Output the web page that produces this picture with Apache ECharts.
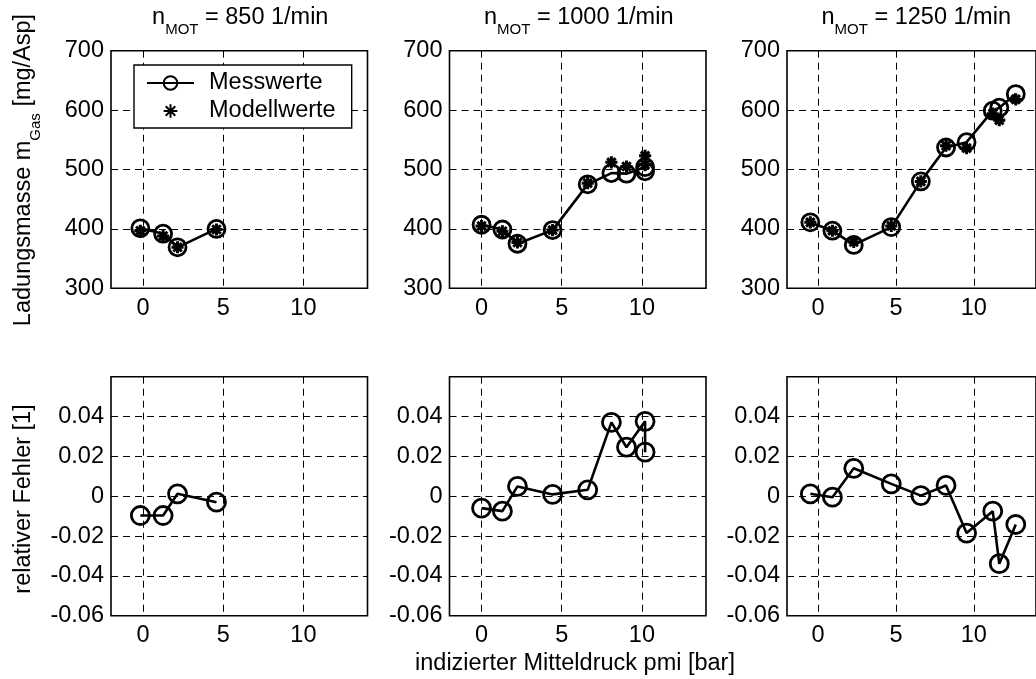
<!DOCTYPE html>
<html><head><meta charset="utf-8">
<script src="https://cdn.jsdelivr.net/npm/echarts@6/dist/echarts.min.js"></script>
<style>html,body{margin:0;padding:0;background:#fff}#c{width:1036px;height:679px}</style>
</head><body><div id="c"></div>
<script>
// ---- data ----
const speeds = ['850', '1000', '1250'];
const pmi850  = [-0.17, 1.25, 2.15, 4.58];
const mess850 = [401, 392, 369, 400];
const model850 = [397, 388, 369, 399];
const err850 = [-0.0097, -0.0097, 0.0012, -0.003];

const pmi1000  = [0.0, 1.3, 2.24, 4.43, 6.62, 8.1, 9.04, 10.2, 10.2];
const mess1000 = [407, 399, 375, 398, 475, 494, 493, 504, 497];
const model1000 = [405, 396, 377, 398, 477, 512, 505, 523, 508];
const err1000 = [-0.006, -0.0075, 0.0049, 0.0009, 0.0032, 0.0371, 0.0246, 0.0376, 0.0221];

const pmi1250  = [-0.5, 0.92, 2.29, 4.7, 6.6, 8.22, 9.54, 11.22, 11.64, 12.7];
const mess1250 = [411, 397, 373, 403, 480, 537, 546, 599, 604, 627];
const model1250 = [411, 397, 378, 405, 480, 540, 536, 594, 583, 618];
const err1250 = [0.0012, -0.0005, 0.014, 0.0062, 0.0003, 0.0054, -0.0185, -0.0075, -0.0339, -0.0142];

const xTicks = [0, 5, 10];
const yTopRange = [300, 700, 100];
const yBotRange = [-0.06, 0.06, 0.02];
const legendNames = ['Messwerte', 'Modellwerte'];
const yNameTop = 'Ladungsmasse m';
const yNameTopSub = 'Gas';
const yNameTopUnit = ' [mg/Asp]';
const yNameBot = 'relativer Fehler [1]';
const xName = 'indizierter Mitteldruck pmi [bar]';

const pmi = [pmi850, pmi1000, pmi1250];
const mess = [mess850, mess1000, mess1250];
const model = [model850, model1000, model1250];
const err = [err850, err1000, err1250];

// ---- layout ----
const FONT = "'Liberation Sans', Arial, Helvetica, sans-serif";
const FS = 23.5;
const colLeft = [111, 449.5, 787];
const colW = 256.5;
const rowTop = [50.7, 376.7];
const rowH = [237.6, 239];
const STAR = 'path://M-1.2,-1.2M11.2,11.2M5,0L5,10M0,5L10,5M1.5,1.5L8.5,8.5M8.5,1.5L1.5,8.5';

const grids = [], xAxes = [], yAxes = [], series = [];
const dashed = {show: true, lineStyle: {color: '#000', width: 1, type: [7, 5]}};
for (let r = 0; r < 2; r++) {
  for (let c = 0; c < 3; c++) {
    const idx = r * 3 + c;
    grids.push({left: colLeft[c], top: rowTop[r], width: colW, height: rowH[r],
      show: true, borderColor: '#000', borderWidth: 1.6, backgroundColor: 'transparent', containLabel: false});
    xAxes.push({type: 'value', gridIndex: idx, min: -2, max: 14,
      axisLine: {show: false}, axisTick: {show: false, customValues: xTicks},
      axisLabel: {customValues: xTicks, color: '#000', fontSize: FS, fontFamily: FONT, margin: 8},
      splitLine: dashed});
    const rg = r === 0 ? yTopRange : yBotRange;
    yAxes.push({type: 'value', gridIndex: idx, min: rg[0], max: rg[1], interval: rg[2],
      axisLine: {show: false}, axisTick: {show: false},
      axisLabel: {color: '#000', fontSize: FS, fontFamily: FONT, margin: 7,
        showMaxLabel: r === 0, showMinLabel: true},
      splitLine: dashed});
    const xs = pmi[c];
    if (r === 0) {
      series.push({name: legendNames[0], type: 'line', xAxisIndex: idx, yAxisIndex: idx,
        data: xs.map((x, i) => [x, mess[c][i]]),
        symbol: 'circle', symbolSize: 17,
        lineStyle: {color: '#000', width: 2.6},
        itemStyle: {color: 'rgba(0,0,0,0)', borderColor: '#000', borderWidth: 2.8},
        emphasis: {disabled: true}, z: 3});
      series.push({name: legendNames[1], type: 'scatter', xAxisIndex: idx, yAxisIndex: idx,
        data: xs.map((x, i) => [x, model[c][i]]),
        symbol: STAR, symbolSize: 15, symbolKeepAspect: true,
        itemStyle: {color: '#000', borderColor: '#000', borderWidth: 3, opacity: 1},
        emphasis: {disabled: true}, z: 4});
    } else {
      series.push({name: legendNames[0], type: 'line', xAxisIndex: idx, yAxisIndex: idx,
        data: xs.map((x, i) => [x, err[c][i]]),
        symbol: 'circle', symbolSize: 18,
        lineStyle: {color: '#000', width: 2.6},
        itemStyle: {color: 'rgba(0,0,0,0)', borderColor: '#000', borderWidth: 2.8},
        emphasis: {disabled: true}, z: 3});
    }
  }
}

// titles and axis names
const graphics = [];
const rich = {
  a: {fontSize: FS, fontFamily: FONT, fill: '#000'},
  s: {fontSize: 15, fontFamily: FONT, fill: '#000', padding: [24, 0, 0, 0]}
};
speeds.forEach((s, c) => {
  graphics.push({type: 'text', x: colLeft[c] + colW / 2 + 1, y: 18,
    style: {text: '{a|n}{s|MOT}{a| = ' + s + ' 1/min}', rich: rich, align: 'center', verticalAlign: 'middle', fill: '#000'}});
});
graphics.push({type: 'text', x: 24, y: 170, rotation: Math.PI / 2,
  style: {text: '{a|' + yNameTop + '}{s|' + yNameTopSub + '}{a|' + yNameTopUnit + '}', rich: rich,
    align: 'center', verticalAlign: 'middle', fill: '#000'}});
graphics.push({type: 'text', x: 24, y: 499, rotation: Math.PI / 2,
  style: {text: yNameBot, font: FS + 'px ' + FONT, align: 'center', verticalAlign: 'middle', fill: '#000'}});
graphics.push({type: 'text', x: 575, y: 664,
  style: {text: xName, font: FS + 'px ' + FONT, align: 'center', verticalAlign: 'middle', fill: '#000'}});

const chart = echarts.init(document.getElementById('c'), null, {renderer: 'canvas'});
chart.setOption({
  animation: false,
  backgroundColor: '#fff',
  grid: grids, xAxis: xAxes, yAxis: yAxes, series: series,
  legend: {data: legendNames, orient: 'vertical', left: 134, top: 65,
    itemWidth: 47, itemHeight: 17, itemGap: 4,
    padding: [6, 16, 5, 12], borderColor: '#000', borderWidth: 1.4, backgroundColor: '#fff',
    selectedMode: false,
    textStyle: {fontSize: FS, fontFamily: FONT, color: '#000', padding: [0, 0, 0, 10]}},
  graphic: graphics
});
</script></body></html>
